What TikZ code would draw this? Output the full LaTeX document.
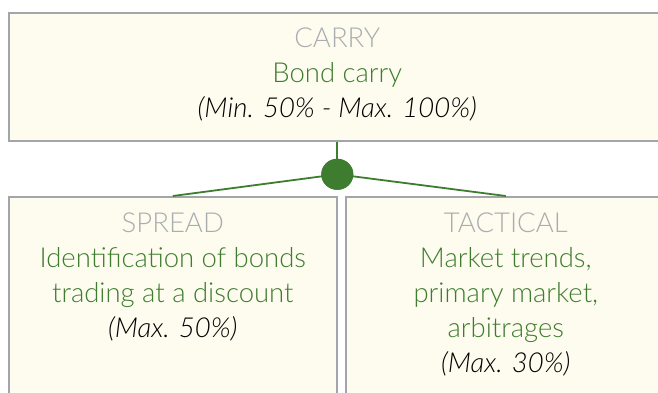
\documentclass[tikz,border=0pt]{standalone}
\usepackage{fontspec}
\setmainfont{Lato}[UprightFont={* Light}, ItalicFont={* Light Italic}]
\usetikzlibrary{positioning}
\usetikzlibrary{shapes.geometric}
\definecolor{boxfill}{HTML}{FEFCEF}
\definecolor{boxline}{HTML}{A2A6AA}
\definecolor{leafgreen}{HTML}{3E7D2F}
\definecolor{capgray}{HTML}{A9ADB0}
\tikzset{
	box/.style = {
		draw=boxline,
		fill=boxfill,
		line width=1.6pt,
		inner sep=0pt,
		anchor=north west
	},
	boxtext/.style = {
		align=center,
		inner sep=0pt,
		font=\fontsize{27.5}{35}\selectfont,
		anchor=north
	},
	link/.style = {
		draw=leafgreen,
		line width=1.8pt
	},
	hub/.style = {
		ellipse,
		fill=leafgreen,
		inner sep=0pt,
		minimum width=32pt,
		minimum height=31pt
	},
}
\newcommand{\headline}[1]{\textcolor{capgray}{#1}}
\newcommand{\leafline}[1]{\textcolor{leafgreen}{#1}}

\begin{document}
\begin{tikzpicture}[x=1pt,y=-1pt]
\useasboundingbox (0,0) rectangle (658,393);
% boxes
\node [box, minimum width=657pt, minimum height=128pt] (carry) at (8,12) {};
\node [box, minimum width=328pt, minimum height=205pt] (spread) at (8,196) {};
\node [box, minimum width=320pt, minimum height=205pt] (tactical) at (345,196) {};
% connectors
\node [hub, below=17pt of carry.south] (fork) {};
\draw [link] (carry.south) -- (fork.north);
\draw [link] (fork.center) -- (spread.north);
\draw [link] (fork.center) -- (tactical.north);
\node [hub] at (fork.center) {};
% texts
\node [boxtext, below=16pt of carry.north] (carrytext) {
	\headline{CARRY}\\
	\leafline{Bond carry}\\
	\textit{(Min. 50\% - Max. 100\%)}
};
\node [boxtext, below=17pt of spread.north] (spreadtext) {
	\headline{SPREAD}\\
	\leafline{Identification of bonds}\\
	\leafline{trading at a discount}\\
	\textit{(Max. 50\%)}
};
\node [boxtext, below=17pt of tactical.north] (tacticaltext) {
	\headline{TACTICAL}\\
	\leafline{Market trends,}\\
	\leafline{primary market,}\\
	\leafline{arbitrages}\\
	\textit{(Max. 30\%)}
};
\end{tikzpicture}
\end{document}
